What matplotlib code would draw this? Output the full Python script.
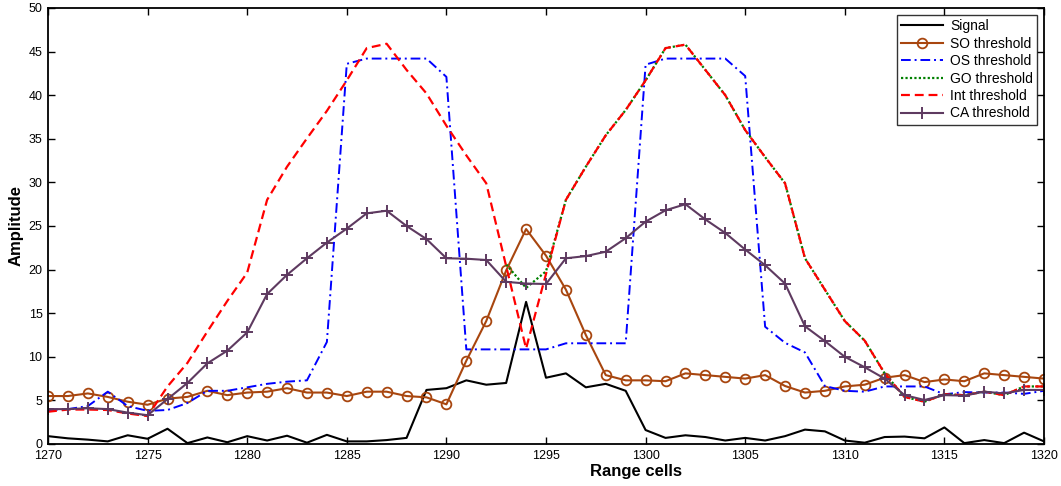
import matplotlib
matplotlib.use("Agg")
import matplotlib.pyplot as plt
import numpy as np

plt.rcParams['font.family'] = ['Liberation Sans', 'DejaVu Sans']

cells = list(range(1270, 1321))

signal = [0.9, 0.65, 0.5, 0.3, 1.0, 0.6, 1.75, 0.1, 0.75, 0.2,
          0.9, 0.4, 0.95, 0.15, 1.05, 0.3, 0.3, 0.45, 0.7, 6.2,
          6.4, 7.3, 6.8, 7.0, 16.3, 7.6, 8.1, 6.5, 6.9, 6.1,
          1.6, 0.7, 1.0, 0.8, 0.4, 0.7, 0.4, 0.9, 1.65, 1.45,
          0.4, 0.15, 0.8, 0.85, 0.65, 1.9, 0.1, 0.45, 0.1, 1.3, 0.3]

so_thr = [5.5, 5.5, 5.8, 5.4, 4.85, 4.5, 5.2, 5.4, 6.1, 5.6,
          5.9, 6.0, 6.4, 5.9, 5.9, 5.5, 6.0, 6.0, 5.5, 5.35,
          4.55, 9.55, 14.1, 19.9, 24.65, 21.6, 17.7, 12.5, 7.9, 7.3,
          7.3, 7.2, 8.1, 7.9, 7.7, 7.5, 7.9, 6.65, 5.9, 6.1,
          6.6, 6.8, 7.6, 7.9, 7.1, 7.4, 7.2, 8.1, 7.9, 7.7, 7.5]

os_thr = [3.9, 4.0, 4.35, 6.0, 4.35, 3.8, 3.9, 4.7, 6.1, 6.1,
          6.5, 6.9, 7.15, 7.3, 11.7, 43.6, 44.2, 44.2, 44.2, 44.2,
          42.1, 10.85, 10.85, 10.85, 10.85, 10.85, 11.55, 11.55, 11.55, 11.55,
          43.5, 44.2, 44.2, 44.2, 44.2, 42.2, 13.45, 11.6, 10.5, 6.65,
          6.1, 6.0, 6.6, 6.6, 6.6, 5.7, 5.95, 5.9, 5.9, 5.75, 6.1]

int_thr = [3.7, 3.95, 3.95, 3.9, 3.5, 3.2, 6.6, 9.3, 12.9, 16.4,
           19.65, 28.0, 31.8, 35.05, 38.2, 41.7, 45.4, 45.9, 42.9, 40.2,
           36.5, 33.1, 29.9, 20.4, 10.95, 19.5, 28.0, 31.8, 35.4, 38.3,
           41.7, 45.4, 45.8, 42.9, 40.0, 36.0, 32.9, 29.9, 21.3, 17.7,
           14.1, 11.85, 8.1, 5.4, 4.85, 5.7, 5.6, 6.0, 5.6, 6.6, 6.6]

# GO threshold: hidden under the Int curve on the left part (not visible there)
nan = float('nan')
go_thr = [nan, nan, nan, nan, nan, nan, nan, nan, nan, nan,
          nan, nan, nan, nan, nan, nan, nan, nan, nan, nan,
          nan, nan, nan, 20.6, 17.9, 19.8, 28.0, 31.8, 35.4, 38.3,
          41.7, 45.4, 45.8, 42.9, 40.0, 36.0, 32.9, 29.9, 21.3, 17.7,
          14.1, 11.85, 8.1, 5.4, 4.85, 5.7, 5.6, 6.0, 5.6, 6.6, 6.6]

ca_thr = [4.0, 4.0, 4.1, 4.0, 3.6, 3.3, 5.15, 7.0, 9.25, 10.7,
          12.8, 17.2, 19.4, 21.3, 23.1, 24.7, 26.45, 26.75, 25.0, 23.5,
          21.3, 21.25, 21.1, 18.6, 18.4, 18.35, 21.3, 21.55, 22.05, 23.6,
          25.5, 26.8, 27.5, 25.75, 24.2, 22.3, 20.5, 18.4, 13.5, 11.8,
          10.0, 8.8, 7.5, 5.6, 5.05, 5.6, 5.55, 6.0, 5.8, 6.2, 6.2]

labels = ['Signal', 'SO threshold', 'OS threshold', 'GO threshold', 'Int threshold', 'CA threshold']

fig = plt.figure(figsize=(10.61, 4.86), dpi=100)
ax = fig.add_axes([48/1061, 1 - 444/486, 996/1061, 436/486])

ax.plot(cells, signal, color='black', lw=1.5, label=labels[0])
ax.plot(cells, so_thr, color='#A8460F', lw=1.5, marker='o', ms=7,
        mfc='none', mew=1.3, label=labels[1])
ax.plot(cells, os_thr, color='#0000FF', lw=1.4, ls=(0, (5, 2, 1, 2)), label=labels[2])
ax.plot(cells, go_thr, color='#008000', lw=1.6, ls=(0, (1, 1)), label=labels[3])
ax.plot(cells, int_thr, color='#FF0000', lw=1.6, ls=(0, (4, 2.2)), label=labels[4])
ax.plot(cells, ca_thr, color='#5E3A60', lw=1.5, marker='+', ms=8,
        mew=1.4, label=labels[5])

ax.set_xlim(1270, 1320)
ax.set_ylim(0, 50)
ax.set_xticks(np.arange(1270, 1321, 5))
ax.set_yticks(np.arange(0, 51, 5))
ax.tick_params(direction='in', length=5, width=1, top=True, right=True,
               labelsize=9, pad=4)
for s in ax.spines.values():
    s.set_linewidth(1.3)

ax.set_xlabel('Range cells', fontsize=12, fontweight='bold')
ax.xaxis.set_label_coords((636 - 48) / 996, -0.045)
ax.set_ylabel('Amplitude', fontsize=12, fontweight='bold')
ax.yaxis.set_label_coords(-0.025, 0.5)

leg = ax.legend(loc='upper right', fontsize=10, frameon=True, fancybox=False,
                edgecolor='black', handlelength=3.0, labelspacing=0.25,
                borderaxespad=0.5, borderpad=0.3, handletextpad=0.5)
leg.get_frame().set_linewidth(1.0)

fig.savefig('out.png', dpi=100)
